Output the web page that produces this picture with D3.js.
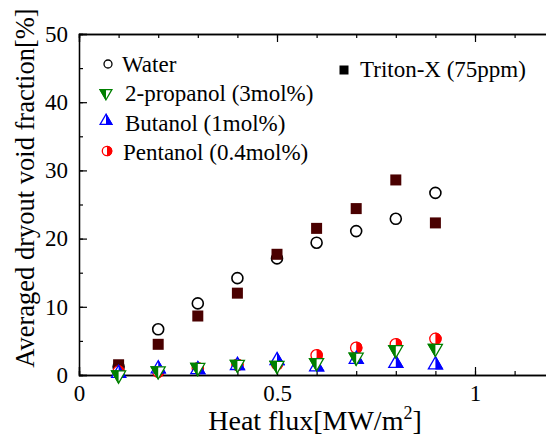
<!DOCTYPE html>
<html>
<head>
<meta charset="utf-8">
<script src="https://cdn.jsdelivr.net/npm/d3@7"></script>
<style>
body { margin: 0; background: #fff; }
</style>
</head>
<body>
<svg id="chart" width="546" height="437"></svg>
<script>
// heat flux [MW/m2]
var heatFlux = [0.1, 0.2, 0.3, 0.4, 0.5, 0.6, 0.7, 0.8, 0.9];
var water = [1.2, 6.7, 10.5, 14.2, 17.1, 19.4, 21.1, 22.9, 26.7];
var propanol = [0.0, 0.6, 1.1, 1.55, 1.4, 1.8, 2.6, 3.7, 3.9];
var butanol = [0.25, 0.9, 0.8, 1.4, 2.1, 1.2, 2.3, 1.7, 1.5];
var pentanol = [0.5, 0.5, 1.0, 1.5, 1.6, 2.9, 4.0, 4.5, 5.3];
var triton = [1.5, 4.5, 8.65, 12.0, 17.7, 21.5, 24.4, 28.6, 22.3];

var xMajor = [0, 0.5, 1];
var yMajor = [0, 10, 20, 30, 40, 50];

var FONT = "Liberation Serif";

var svg = d3.select("svg#chart"),
	margin = {top: 34, left: 79, bottom: 62},
	height = +svg.attr("height") - margin.top - margin.bottom;

var x = d3.scaleLinear().domain([0, 1.2]).range([margin.left, margin.left + 475.2]);
var y = d3.scaleLinear().domain([0, 50]).range([margin.top + height, margin.top]);

var defs = svg.append("defs");
var colors = {green: "#008000", blue: "#0000ff", red: "#ff0000"};
// right-half clip for half-filled markers
defs.append("clipPath").attr("id", "rhalf")
  .append("rect").attr("x", 0).attr("y", -20).attr("width", 20).attr("height", 40);

// axes: ticks point inward
var g = svg.append("g");
function tickFmt(d) { return d3.format("")(d); }

g.append("g")
	.attr("transform", "translate(0," + y(0) + ")")
	.call(d3.axisBottom(x).tickValues(d3.range(0, 1.21, 0.1)).tickSize(-4).tickFormat(""));
g.append("g")
	.attr("transform", "translate(0," + y(0) + ")")
	.call(d3.axisBottom(x).tickValues(xMajor).tickSize(-8).tickPadding(10).tickFormat(tickFmt));
g.append("g")
	.attr("transform", "translate(0," + y(50) + ")")
	.call(d3.axisTop(x).tickValues(d3.range(0, 1.21, 0.1)).tickSize(-4).tickFormat(""));
g.append("g")
	.attr("transform", "translate(0," + y(50) + ")")
	.call(d3.axisTop(x).tickValues(xMajor).tickSize(-8).tickFormat(""));
g.append("g")
	.attr("transform", "translate(" + x(0) + ",0)")
	.call(d3.axisLeft(y).tickValues(d3.range(0, 51, 5)).tickSize(-4).tickFormat(""));
g.append("g")
	.attr("transform", "translate(" + x(0) + ",0)")
	.call(d3.axisLeft(y).tickValues(yMajor).tickSize(-8).tickPadding(11).tickFormat(tickFmt));

g.selectAll(".domain").attr("stroke", "#000").attr("stroke-width", 1.3);
g.selectAll(".tick line").attr("stroke", "#000").attr("stroke-width", 1.2);
g.selectAll(".tick text").attr("font-family", FONT).attr("font-size", 23).attr("fill", "#000");

// marker drawing
var tri = d3.symbol().type(d3.symbolTriangle).size(85);
function drawHalf(sel, shape, color, rot) {
	sel.append("path").attr("d", shape).attr("transform", rot)
		.attr("fill", "#fff").attr("stroke", color).attr("stroke-width", 1.3);
	sel.append("path").attr("d", shape).attr("transform", rot)
		.attr("clip-path", "url(#rhalf)").attr("fill", color).attr("stroke", color).attr("stroke-width", 1.3);
}
var markers = {
	water: function(s) { s.append("circle").attr("r", 5.5).attr("fill", "#fff").attr("stroke", "#000").attr("stroke-width", 1.6); },
	triton: function(s) { s.append("rect").attr("x", -5.5).attr("y", -5.5).attr("width", 11).attr("height", 11).attr("fill", "#4a0000"); },
	propanol: function(s) { drawHalf(s, tri(), colors.green, "rotate(180)"); },
	butanol: function(s) { drawHalf(s, tri(), colors.blue, null); },
	pentanol: function(s) { drawHalf(s, d3.symbol().type(d3.symbolCircle).size(100)(), colors.red, null); }
};

var series = [
	{key: "water", vals: water},
	{key: "triton", vals: triton},
	{key: "pentanol", vals: pentanol},
	{key: "butanol", vals: butanol},
	{key: "propanol", vals: propanol}
];
series.forEach(function(s) {
	svg.append("g").selectAll("g")
		.data(heatFlux.map(function(h, i) { return [h, s.vals[i]]; }))
		.join("g")
		.attr("transform", function(d) { return "translate(" + x(d[0]) + "," + y(d[1]) + ")"; })
		.each(function() { markers[s.key](d3.select(this)); });
});

// legend
var legendItems = [
	{key: "water", label: "Water", mx: 108, my: 64, tx: 122, ty: 71.5},
	{key: "propanol", label: "2-propanol (3mol%)", mx: 106, my: 93, tx: 125, ty: 101},
	{key: "butanol", label: "Butanol (1mol%)", mx: 106, my: 121, tx: 125, ty: 130.5},
	{key: "pentanol", label: "Pentanol (0.4mol%)", mx: 107, my: 151, tx: 123, ty: 160},
	{key: "triton", label: "Triton-X (75ppm)", mx: 344, my: 70, tx: 360, ty: 76.5}
];
var leg = svg.append("g").selectAll("g").data(legendItems).join("g");
leg.each(function(d) {
	var gg = d3.select(this).append("g").attr("transform", "translate(" + d.mx + "," + d.my + ")");
	if (d.key == "water") gg.append("circle").attr("r", 4).attr("fill", "#fff").attr("stroke", "#000").attr("stroke-width", 1.3);
	else if (d.key == "triton") gg.append("rect").attr("x", -4.5).attr("y", -4.5).attr("width", 9).attr("height", 9).attr("fill", "#000");
	else if (d.key == "pentanol") drawHalf(gg, d3.symbol().type(d3.symbolCircle).size(70)(), colors.red, null);
	else drawHalf(gg, d3.symbol().type(d3.symbolTriangle).size(60)(), d.key == "butanol" ? colors.blue : colors.green,
		d.key == "propanol" ? "rotate(180)" : null);
	d3.select(this).append("text").attr("x", d.tx).attr("y", d.ty)
		.attr("font-family", FONT).attr("font-size", 23).text(d.label);
});

// axis labels
svg.append("text")
	.attr("x", 315).attr("y", 430).attr("text-anchor", "middle")
	.attr("font-family", FONT).attr("font-size", 28)
	.html('Heat flux[MW/m<tspan dy="-11" font-size="18">2</tspan><tspan dy="11">]</tspan>');
svg.append("text")
	.attr("transform", "translate(34,188) rotate(-90)")
	.attr("text-anchor", "middle").attr("font-family", FONT).attr("font-size", 26.5)
	.text("Averaged dryout void fraction[%]");
</script>
</body>
</html>
